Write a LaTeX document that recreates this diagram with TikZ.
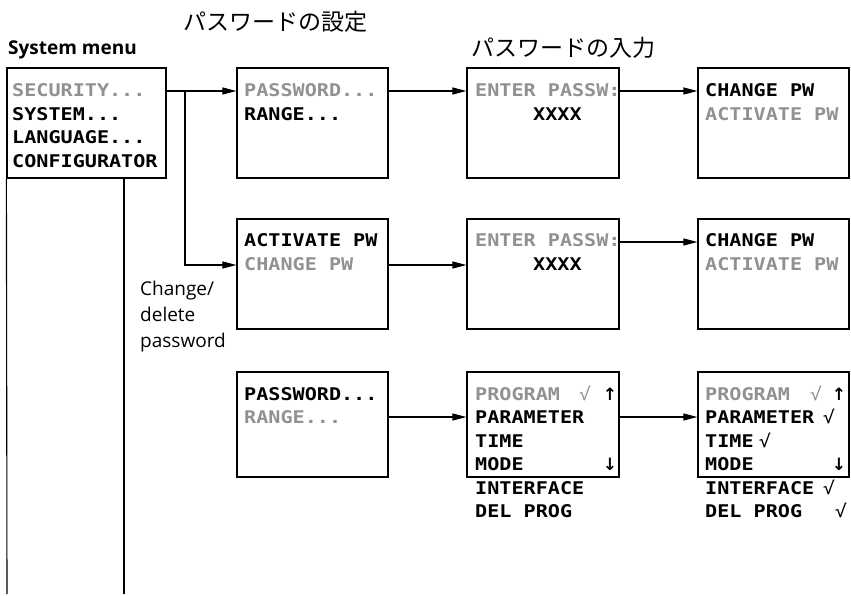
\documentclass[tikz,border=0pt]{standalone}
\usepackage{fontspec}
\usetikzlibrary{arrows.meta}
\newfontfamily\lcd[FakeStretch=1.15]{DejaVu Sans Mono}
\newfontfamily\arrfont{DejaVu Sans}
\newfontfamily\labfont{Open Sans}
\newfontfamily\cjk{Noto Sans CJK JP}
\definecolor{lcdgray}{RGB}{145,145,145}
\begin{document}
\begin{tikzpicture}[x=1pt,y=-1pt,
  box/.style={draw,line width=1.2pt,inner sep=0pt,minimum width=151pt,minimum height=110pt},
  lcdt/.style={font=\lcd\bfseries\fontsize{17.5}{24}\selectfont,anchor=base west,inner sep=0pt},
  lcdg/.style={lcdt,text=lcdgray},
  sym/.style={font=\lcd\fontsize{17.5}{24}\selectfont,anchor=base,inner sep=0pt},
  arrsym/.style={font=\arrfont\bfseries\fontsize{17}{24}\selectfont,anchor=base,inner sep=0pt},
  lab/.style={font=\labfont\fontsize{19}{24}\selectfont,anchor=base west,inner sep=0pt},
  jp/.style={font=\cjk\fontsize{23}{26}\selectfont,inner sep=0pt},
  conn/.style={line width=1.1pt},
  arr/.style={conn,-{Triangle[length=14pt,width=7pt]}}]
\useasboundingbox (0,0) rectangle (851,596);
% titles
\node[jp] (jp1) at (275,22) {パスワードの設定};
\node[jp] (jp2) at (563,48) {パスワードの入力};
\node[lab,font=\labfont\bfseries\fontsize{19}{24}\selectfont] (sysmenu) at (8,55) {System menu};
\node[lab] (chg1) at (140,295) {Change/};
\node[lab] (chg2) at (140,321) {delete};
\node[lab] (chg3) at (140,347) {password};
% boxes
\node[box,minimum width=159pt] (b1) at (86.5,123) {};
\node[box] (b2) at (312.5,123) {};
\node[box,minimum width=152pt] (b5) at (543,123) {};
\node[box] (b6) at (773.5,123) {};
\node[box] (b3) at (312.5,274) {};
\node[box,minimum width=152pt] (b7) at (543,274) {};
\node[box] (b8) at (773.5,274) {};
\node[box,minimum height=105pt] (b4) at (312.5,424.5) {};
\node[box,minimum width=152pt,minimum height=105pt] (b9) at (543,424.5) {};
\node[box,minimum height=105pt] (b10) at (773.5,424.5) {};
% box 1 text
\node[lcdg] (t1a) at (12,97) {SECURITY...};
\node[lcdt] (t1b) at (12,120.5) {SYSTEM...};
\node[lcdt] (t1c) at (12,144) {LANGUAGE...};
\node[lcdt] (t1d) at (12,167.5) {CONFIGURATOR};
% box 2
\node[lcdg] (t2a) at (244,97) {PASSWORD...};
\node[lcdt] (t2b) at (244,120.5) {RANGE...};
% box 5
\node[lcdg] (t5a) at (475,97) {ENTER PASSW:};
\node[lcdt] (t5b) at (533,120.5) {XXXX};
% box 6
\node[lcdt] (t6a) at (705,97) {CHANGE PW};
\node[lcdg] (t6b) at (705,120.5) {ACTIVATE PW};
% box 3
\node[lcdt] (t3a) at (244,247) {ACTIVATE PW};
\node[lcdg] (t3b) at (244,270.5) {CHANGE PW};
% box 7
\node[lcdg] (t7a) at (475,247) {ENTER PASSW:};
\node[lcdt] (t7b) at (533,270.5) {XXXX};
% box 8
\node[lcdt] (t8a) at (705,247) {CHANGE PW};
\node[lcdg] (t8b) at (705,270.5) {ACTIVATE PW};
% box 4
\node[lcdt] (t4a) at (244,400) {PASSWORD...};
\node[lcdg] (t4b) at (244,423.5) {RANGE...};
% box 9
\node[lcdg] (t9a) at (475,400) {PROGRAM};
\node[sym,text=lcdgray] (s9a) at (585,400) {√};
\node[arrsym] (s9b) at (610,400) {↑};
\node[lcdt] (t9b) at (475,423.5) {PARAMETER};
\node[lcdt] (t9c) at (475,447) {TIME};
\node[lcdt] (t9d) at (475,470.5) {MODE};
\node[arrsym] (s9c) at (610,470.5) {↓};
\node[lcdt] (t9e) at (475,494) {INTERFACE};
\node[lcdt] (t9f) at (475,517.5) {DEL PROG};
% box 10
\node[lcdg] (t10a) at (705,400) {PROGRAM};
\node[sym,text=lcdgray] (s10a) at (816,400) {√};
\node[arrsym] (s10b) at (839,400) {↑};
\node[lcdt] (t10b) at (705,423.5) {PARAMETER};
\node[sym] (s10c) at (829,423.5) {√};
\node[lcdt] (t10c) at (705,447) {TIME};
\node[sym] (s10d) at (765,447) {√};
\node[lcdt] (t10d) at (705,470.5) {MODE};
\node[arrsym] (s10e) at (839,470.5) {↓};
\node[lcdt] (t10e) at (705,494) {INTERFACE};
\node[sym] (s10f) at (829,494) {√};
\node[lcdt] (t10f) at (705,517.5) {DEL PROG};
\node[sym] (s10g) at (841,517.5) {√};
% connector rows
\coordinate (r1) at (0,91);
\coordinate (r2) at (0,265);
\coordinate (r2b) at (0,242);
\coordinate (r3) at (0,417);
\coordinate (br) at (185,91);
\coordinate (e1) at (7,594);
\coordinate (e2) at (124,594);
\draw[arr] (b1.east |- r1) -- (b2.west |- r1);
\draw[arr] (br) |- (b3.west |- r2);
\draw[arr] (b2.east |- r1) -- (b5.west |- r1);
\draw[arr] (b5.east |- r1) -- (b6.west |- r1);
\draw[arr] (b3.east |- r2) -- (b7.west |- r2);
\draw[arr] (b7.east |- r2b) -- (b8.west |- r2b);
\draw[arr] (b4.east |- r3) -- (b9.west |- r3);
\draw[arr] (b9.east |- r3) -- (b10.west |- r3);
\draw[conn] (b1.south west) -- (e1);
\draw[conn] (b1.south -| e2) -- (e2);
\end{tikzpicture}
\end{document}
